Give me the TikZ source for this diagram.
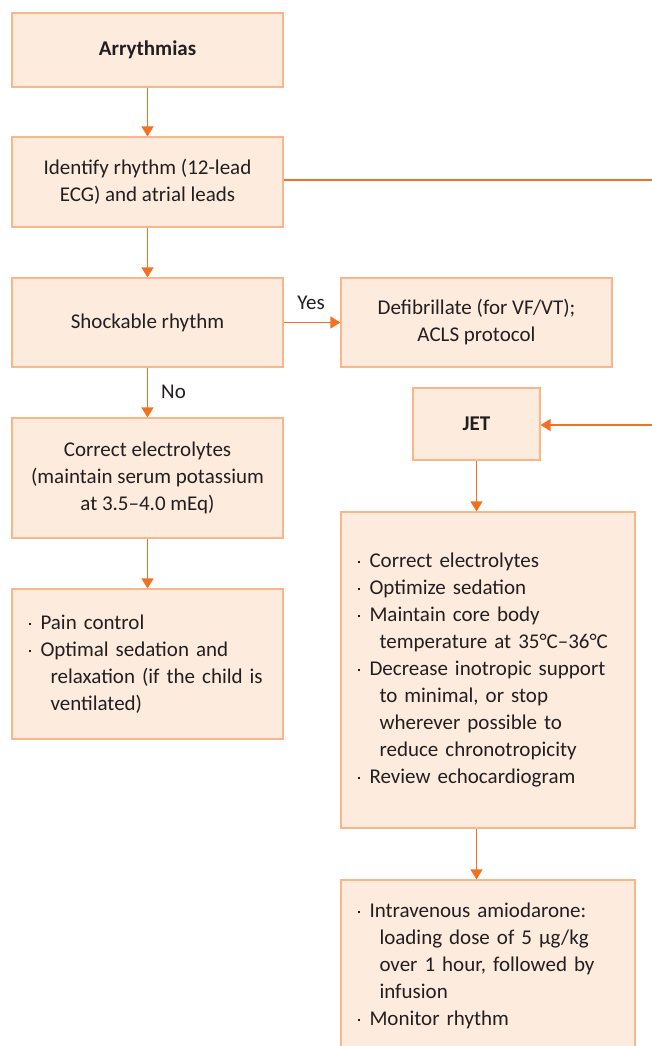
\documentclass[tikz,border=0pt]{standalone}
\usepackage{fontspec}
\setmainfont{Carlito}
\usetikzlibrary{arrows.meta}
\definecolor{boxfill}{HTML}{FDEBDE}
\definecolor{boxline}{HTML}{F9B68A}
\definecolor{arrcol}{HTML}{F37021}
\definecolor{txt}{HTML}{231F20}
\newcommand\bl[1]{\makebox[13pt][l]{\hspace*{1pt}\raisebox{0.42ex}{\rule{2.3pt}{2.3pt}}}\mbox{#1}}
\newcommand\cl[1]{\hspace*{23pt}\mbox{#1}}
\tikzset{
  box/.style={draw=boxline, fill=boxfill, line width=1.2pt, inner sep=0pt, align=center, text=txt, rectangle},
  bbox/.style={box, inner xsep=15.5pt, align=left},
  arr/.style={draw=arrcol, line width=1.4pt, -{Triangle[width=12pt,length=10pt]}},
  lnk/.style={draw=arrcol, line width=1.4pt},
  lbl/.style={text=txt, inner sep=0pt},
  every node/.style={font=\fontsize{21}{27}\selectfont}
}
\begin{document}
\begin{tikzpicture}[x=1pt,y=-1pt]
\useasboundingbox (0,0) rectangle (652,1046);
\clip (0,0) rectangle (652,1046);
\fill[white] (0,0) rectangle (652,1046);
\node[box, minimum width=271pt, minimum height=74pt] (arr) at (147.5,50) {\textbf{Arrythmias}};
\node[box, minimum width=271pt, minimum height=90pt] (id) at (147.5,182) {Identify rhythm (12-lead\\ECG) and atrial leads};
\node[box, minimum width=271pt, minimum height=89pt] (sh) at (147.5,322.5) {Shockable rhythm};
\node[box, minimum width=271pt, minimum height=89pt] (def) at (476.5,322.5) {Defibrillate (for VF/VT);\\ACLS protocol};
\node[box, minimum width=271pt, minimum height=120pt] (el) at (147.5,478) {Correct electrolytes\\(maintain serum potassium\\at 3.5–4.0 mEq)};
\node[bbox, text width=240pt, minimum height=150pt] (pain) at (147.5,664) {\bl{Pain control}\\\bl{Optimal sedation and}\\\cl{relaxation (if the child is}\\\cl{ventilated)}};
\node[box, minimum width=127pt, minimum height=72pt] (jet) at (476.5,424) {\textbf{JET}};
\node[bbox, text width=263pt, minimum height=316pt] (big) at (488,670) {\bl{Correct electrolytes}\\\bl{Optimize sedation}\\\bl{Maintain core body}\\\cl{temperature at 35°C–36°C}\\\bl{Decrease inotropic support}\\\cl{to minimal, or stop}\\\cl{wherever possible to}\\\cl{reduce chronotropicity}\\\bl{Review echocardiogram}};
\node[bbox, text width=263pt, minimum height=172pt] (amio) at (488,966) {\bl{Intravenous amiodarone:}\\\cl{loading dose of 5 µg/kg}\\\cl{over 1 hour, followed by}\\\cl{infusion}\\\bl{Monitor rhythm}};
\coordinate (r1) at (652,180);
\coordinate (r2) at (652,425);
\draw[arr] (arr.south) -- (id.north);
\draw[arr] (id.south) -- (sh.north);
\draw[lnk] (id.east |- r1) -- (r1);
\draw[arr] (sh.east) -- (def.west);
\draw[arr] (sh.south) -- (el.north);
\draw[arr] (el.south) -- (pain.north);
\draw[arr] (r2) -- (jet.east |- r2);
\draw[arr] (jet.south) -- (jet.south |- big.north);
\draw[arr] (big.south -| jet.south) -- (jet.south |- amio.north);
\node[lbl] (yes) at (311,303) {Yes};
\node[lbl] (no) at (173.5,392) {No};
\end{tikzpicture}
\end{document}
